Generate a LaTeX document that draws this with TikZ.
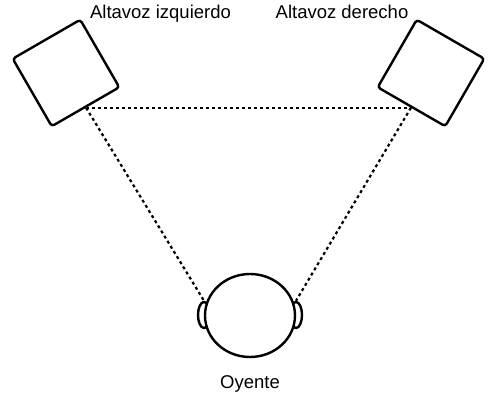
\documentclass[tikz,border=0pt]{standalone}
\usepackage{fontspec}
\setmainfont{Liberation Sans}
\usepackage{tikz}
\usetikzlibrary{shapes.geometric}

\begin{document}
\begin{tikzpicture}[x=1pt, y=1pt, line width=2.4pt,
		speaker/.style = {draw, rectangle, minimum size=78pt, rounded corners=3pt, inner sep=0pt},
		ear/.style = {draw, ellipse, minimum width=12pt, minimum height=26pt, inner sep=0pt},
		head/.style = {draw, ellipse, fill=white, minimum width=90pt, minimum height=83pt, inner sep=0pt},
		path/.style = {line width=2.2pt, dash pattern=on 3pt off 3pt},
		label/.style = {anchor=base, font=\fontsize{18.5}{20}\selectfont, inner sep=0pt}]
		\useasboundingbox (0,0) rectangle (492,395);

		\node[speaker, rotate=30] (1) at (66,322) {};
		\node[speaker, rotate=-30] (2) at (431,322) {};
		\node[ear] (3) at (204,80) {};
		\node[ear] (4) at (296,80) {};
		\node[head] (5) at (250,79.5) {};

		\node[label] at (160.5,376.7) {Altavoz izquierdo};
		\node[label] at (342,376.7) {Altavoz derecho};
		\node[label] at (250,6.7) {Oyente};

		\draw[path] (1.south) -- (2.south);
		\draw[path] (1.south) -- (3.north);
		\draw[path] (2.south) -- (4.north);
	\end{tikzpicture}
\end{document}
